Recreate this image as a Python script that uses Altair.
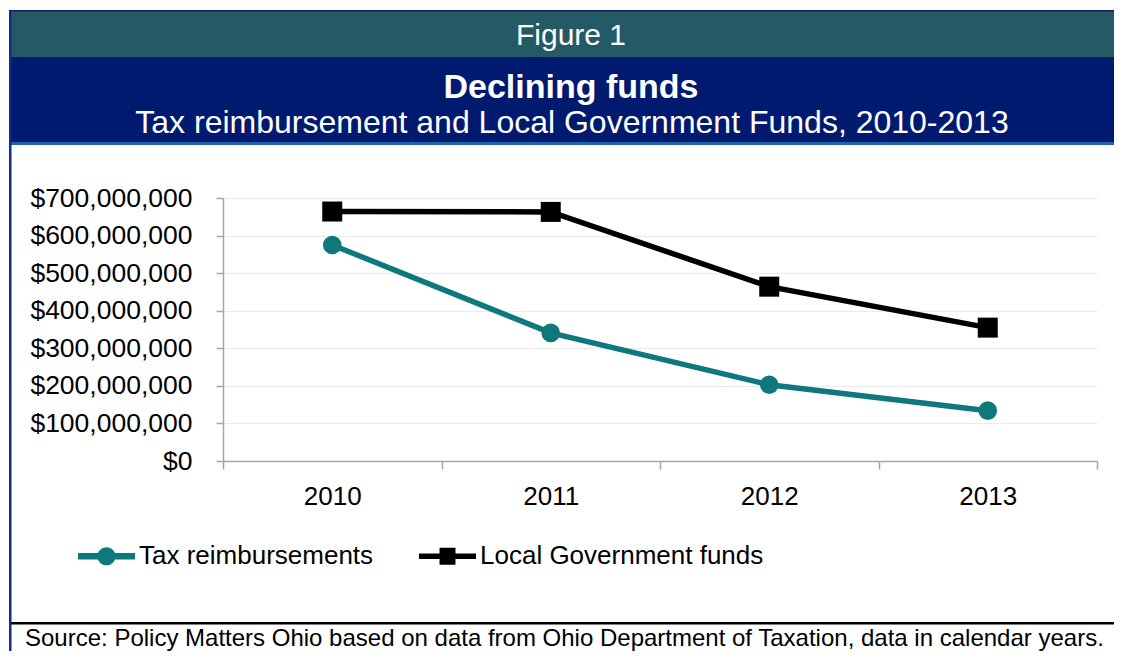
import altair as alt
import pandas as pd

# ---- data ----
years = [2010, 2011, 2012, 2013]
tax_reimbursements = [575_000_000, 341_000_000, 203_000_000, 134_000_000]
local_gov_funds = [664_000_000, 663_000_000, 464_000_000, 355_000_000]
series_names = ["Tax reimbursements", "Local Government funds"]
series_colors = ["#0e787c", "#000000"]
series_shapes = ["circle", "square"]
series_sizes = [346, 400]
y_ticks = [0, 100_000_000, 200_000_000, 300_000_000, 400_000_000,
           500_000_000, 600_000_000, 700_000_000]
x_ticks = [2009.5, 2010.5, 2011.5, 2012.5, 2013.5]

rows = []
for i, yr in enumerate(years):
    rows.append({"year": yr, "series": series_names[0], "value": tax_reimbursements[i]})
    rows.append({"year": yr, "series": series_names[1], "value": local_gov_funds[i]})
df = pd.DataFrame(rows)

W, H = 874, 263
FONT = "Liberation Sans"
AXIS_GRAY = "#a6a6a6"
one = alt.Data(values=[{}])


def rect(x1, x2, y1, y2, color):
    return alt.Chart(one).mark_rect(color=color).encode(
        x=alt.value(x1), x2=alt.value(x2), y=alt.value(y1), y2=alt.value(y2))


def label(txt, x, y, size, align="center", weight="normal", color="white"):
    return alt.Chart(one).mark_text(
        font=FONT, fontSize=size, fontWeight=weight, color=color,
        align=align, baseline="middle").encode(
        x=alt.value(x), y=alt.value(y), text=alt.value(txt))


decor = [
    rect(-214, 899, -187, -141, "#235a65"),
    rect(-214, 899, -188, -186.5, "#0f1f6e"),
    rect(-214, 899, -141, -56, "#001a70"),
    rect(-214, 899, -56, -53, "#1f64a6"),
    rect(-214, -211.5, -187, 470, "#142b8c"),
    rect(-212, 899, 424, 426.5, "#000000"),
    label("Figure 1", 348, -162, 30),
    label("Declining funds", 348, -110, 34, weight="bold"),
    label("Tax reimbursement and Local Government Funds, 2010-2013", 349, -75, 32),
    label("Source: Policy Matters Ohio based on data from Ohio Department of Taxation, data in calendar years.",
          -198, 441, 24, align="left", color="#000000"),
]

x_enc = alt.X(
    "year:Q",
    scale=alt.Scale(domain=[2009.5, 2013.5], nice=False, zero=False),
    axis=alt.Axis(
        values=x_ticks, title=None, grid=False,
        labelExpr="datum.value < 2013 ? format(datum.value + 0.5, 'd') : ''",
        labelOffset=W / 8, labelOverlap=False, labelFlush=False,
        tickSize=8, tickWidth=1.5, tickColor=AXIS_GRAY,
        domainColor=AXIS_GRAY, domainWidth=1.5,
        labelPadding=14, labelFontSize=26, labelFont=FONT, labelColor="#000000"),
)
y_enc = alt.Y(
    "value:Q",
    scale=alt.Scale(domain=[0, 700_000_000], nice=False),
    axis=alt.Axis(
        values=y_ticks, format="$,.0f", title=None,
        grid=True, gridColor="#ebebeb", gridWidth=1,
        tickSize=7, tickWidth=1.5, tickColor=AXIS_GRAY,
        domainColor=AXIS_GRAY, domainWidth=1.5,
        labelPadding=24, labelFontSize=26.5, labelFont=FONT, labelColor="#000000"),
)

color_scale = alt.Scale(domain=series_names, range=series_colors)

circle_path = ("M-1,-0.11L1,-0.11L1,0.11L-1,0.11Z "
               "M0.32,0A0.32,0.32,0,1,1,-0.32,0A0.32,0.32,0,1,1,0.32,0Z")
square_path = ("M-1,-0.1L1,-0.1L1,0.1L-1,0.1Z "
               "M-0.28,-0.3L0.28,-0.3L0.28,0.3L-0.28,0.3Z")

legend = alt.Legend(
    title=None, orient="none", legendX=-145, legendY=329.5,
    direction="horizontal", columns=2, columnPadding=45, padding=0,
    symbolSize=3249, symbolStrokeWidth=0, symbolOpacity=1,
    symbolType=alt.ExprRef(
        expr=f"datum.value === '{series_names[0]}' ? '{circle_path}' : '{square_path}'"),
    labelFont=FONT, labelFontSize=26, labelColor="#000000", labelOffset=4,
    labelLimit=600,
)

color_enc = alt.Color("series:N", scale=color_scale, legend=legend)

lines = alt.Chart(df).mark_line(strokeWidth=5.5).encode(
    x=x_enc, y=y_enc, color=color_enc, order="year:Q",
)

point_layers = []
for name, shape, size in zip(series_names, series_shapes, series_sizes):
    point_layers.append(
        alt.Chart(df).transform_filter(alt.datum.series == name)
        .mark_point(filled=True, opacity=1, shape=shape, size=size)
        .encode(x=x_enc, y=y_enc, color=color_enc)
    )

chart = alt.layer(*decor, lines, *point_layers).properties(
    width=W, height=H,
    padding={"left": 215, "top": 190, "right": 17, "bottom": 190},
    autosize=alt.AutoSizeParams(type="none"),
).configure_view(stroke=None)

chart.save("out.html", embed_options={"renderer": "svg", "actions": False})
